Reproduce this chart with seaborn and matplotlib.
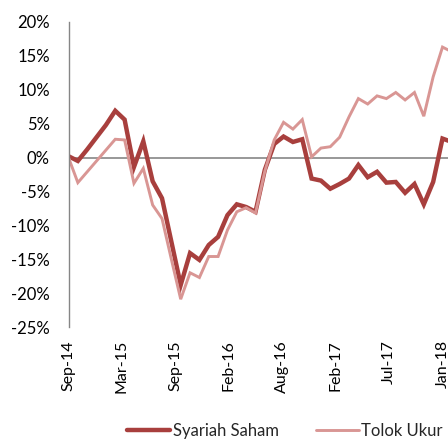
import numpy as np
import pandas as pd
import matplotlib
matplotlib.use("Agg")
import matplotlib.pyplot as plt
from matplotlib.lines import Line2D
from matplotlib.ticker import FuncFormatter
import seaborn as sns

# ---- data (monthly, Sep-14 .. Feb-18) ----
months = pd.date_range("2014-09-01", periods=42, freq="MS").strftime("%b-%y").tolist()
series_names = ["Syariah Saham", "Tolok Ukur"]
syariah_saham = [0.2, -0.5, 1.2, 3.0, 4.8, 6.9, 5.6, -1.4, 2.4, -3.5,
                 -6.0, -12.4, -18.8, -14.1, -15.1, -12.9, -11.7, -8.5, -6.9, -7.3,
                 -8.0, -1.8, 2.0, 3.1, 2.3, 2.7, -3.1, -3.4, -4.6, -3.9,
                 -3.1, -1.1, -2.9, -2.1, -3.7, -3.6, -5.2, -3.9, -6.9, -3.6,
                 2.8, 2.3]
tolok_ukur = [0.0, -3.7, -2.1, -0.5, 1.1, 2.7, 2.6, -3.8, -1.6, -7.0,
              -9.0, -15.0, -20.9, -17.0, -17.7, -14.6, -14.6, -10.7, -8.0, -7.4,
              -8.2, -2.0, 2.6, 5.2, 4.2, 5.6, 0.1, 1.4, 1.6, 3.0,
              6.0, 8.7, 7.9, 9.1, 8.7, 9.6, 8.5, 9.6, 6.1, 11.9,
              16.3, 15.6]
tick_labels = ["Sep-14", "Mar-15", "Sep-15", "Feb-16", "Aug-16", "Feb-17", "Jul-17", "Jan-18"]
y_ticks = list(range(-25, 21, 5))

dark = "#A83F3D"
light = "#D99694"
grey = "#868686"

sns.set_theme(style="white")
plt.rcParams["font.family"] = ["Lato", "DejaVu Sans"]

n = len(months)
df = pd.DataFrame({
    "idx": list(range(n)) * 2,
    "month": months * 2,
    "value": syariah_saham + tolok_ukur,
    "series": [series_names[0]] * n + [series_names[1]] * n,
})

W, H = 448, 442
fig = plt.figure(figsize=(W / 100, H / 100), dpi=100)
left_px, top_px, bot_px = 68.5, 22, 327
ax = fig.add_axes([left_px / W, 1 - bot_px / H, 1 - left_px / W, (bot_px - top_px) / H])

sns.lineplot(data=df, x="idx", y="value", hue="series", palette=[dark, light],
             ax=ax, legend=False, sort=False)
lw = {0: 3.2, 1: 2.1}
for i, ln in enumerate(ax.lines[:2]):
    ln.set_linewidth(lw[i])
    ln.set_solid_joinstyle("miter")

ax.axhline(0, color=grey, lw=1.2, zorder=0.5)

ax.set_xlim(0, (W - left_px) / 9.35)
ax.set_ylim(-25, 20)
ax.set_yticks(y_ticks)
ax.yaxis.set_major_formatter(FuncFormatter(lambda v, p: f"{v:.0f}%"))
ax.set_xticks(np.linspace(0, 40, len(tick_labels)))
ax.set_xticklabels(tick_labels, rotation=90)
ax.set_xlabel("")
ax.set_ylabel("")

for s in ["top", "right", "bottom"]:
    ax.spines[s].set_visible(False)
ax.spines["left"].set_color(grey)
ax.spines["left"].set_linewidth(1.0)
ax.tick_params(axis="both", length=0, colors="black")
ax.tick_params(axis="y", pad=13.5, labelsize=12)
ax.tick_params(axis="x", pad=9.5, labelsize=11.5)

handles = [Line2D([], [], color=dark, lw=3.2), Line2D([], [], color=light, lw=2.1)]
fig.legend(handles, series_names, loc="center left",
           bbox_to_anchor=(127 / W, 1 - 431 / H), ncol=2, frameon=False,
           fontsize=12, handlelength=2.6, handletextpad=0.15,
           columnspacing=2.2, borderpad=0, borderaxespad=0)

fig.savefig("out.png", dpi=100)
